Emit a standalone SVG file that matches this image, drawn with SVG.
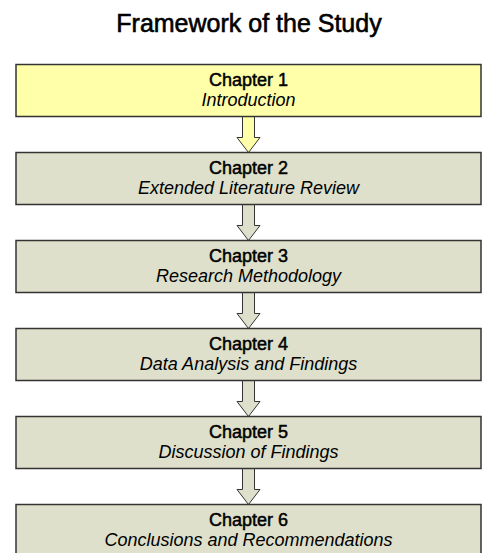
<svg xmlns="http://www.w3.org/2000/svg" width="482" height="553" viewBox="0 0 482 553">
  <style>
    .title { font-family: "Liberation Sans", Arial, sans-serif; font-size: 25px; fill: #000; text-anchor: middle; stroke: #000; stroke-width: 0.6; }
    .head { font-family: "Liberation Sans", Arial, sans-serif; font-size: 18px; fill: #000; text-anchor: middle; stroke: #000; stroke-width: 0.5; }
    .sub { font-family: "Liberation Sans", Arial, sans-serif; font-size: 18px; font-style: italic; fill: #000; text-anchor: middle; }
    .box { stroke: #333; stroke-width: 1.5; }
    .first { fill: #FFFFAA; }
    .rest { fill: #DEE0CC; }
    .arrow { stroke: #333; stroke-width: 1; stroke-linejoin: miter; }
  </style>
  <defs>
    <!-- block arrow: shaft then head, tip at y=36 -->
    <path id="blockArrow" d="M-6,0 L6,0 L6,21 L11.5,21 L0,36 L-11.5,21 L-6,21 Z"/>
  </defs>
  <rect width="482" height="553" fill="#fff"/>

  <text class="title" x="249" y="31.5">Framework of the Study</text>

  <g id="connectors">
    <use href="#blockArrow" class="arrow first" x="248.5" y="116.5"/>
    <use href="#blockArrow" class="arrow rest" x="248.5" y="204.5"/>
    <use href="#blockArrow" class="arrow rest" x="248.5" y="292.5"/>
    <use href="#blockArrow" class="arrow rest" x="248.5" y="380.5"/>
    <use href="#blockArrow" class="arrow rest" x="248.5" y="468.5"/>
  </g>

  <g id="chapter1">
    <rect class="box first" x="16" y="64.5" width="465" height="52"/>
    <text class="head" x="248.5" y="85.5">Chapter 1</text>
    <text class="sub" x="248.5" y="105.5">Introduction</text>
  </g>
  <g id="chapter2">
    <rect class="box rest" x="16" y="152.5" width="465" height="52"/>
    <text class="head" x="248.5" y="174">Chapter 2</text>
    <text class="sub" x="248.5" y="194">Extended Literature Review</text>
  </g>
  <g id="chapter3">
    <rect class="box rest" x="16" y="240.5" width="465" height="52"/>
    <text class="head" x="248.5" y="262">Chapter 3</text>
    <text class="sub" x="248.5" y="282">Research Methodology</text>
  </g>
  <g id="chapter4">
    <rect class="box rest" x="16" y="328.5" width="465" height="52"/>
    <text class="head" x="248.5" y="350">Chapter 4</text>
    <text class="sub" x="248.5" y="370">Data Analysis and Findings</text>
  </g>
  <g id="chapter5">
    <rect class="box rest" x="16" y="416.5" width="465" height="52"/>
    <text class="head" x="248.5" y="438">Chapter 5</text>
    <text class="sub" x="248.5" y="458">Discussion of Findings</text>
  </g>
  <g id="chapter6">
    <rect class="box rest" x="16" y="504.5" width="465" height="52"/>
    <text class="head" x="248.5" y="526">Chapter 6</text>
    <text class="sub" x="248.5" y="546">Conclusions and Recommendations</text>
  </g>
</svg>
